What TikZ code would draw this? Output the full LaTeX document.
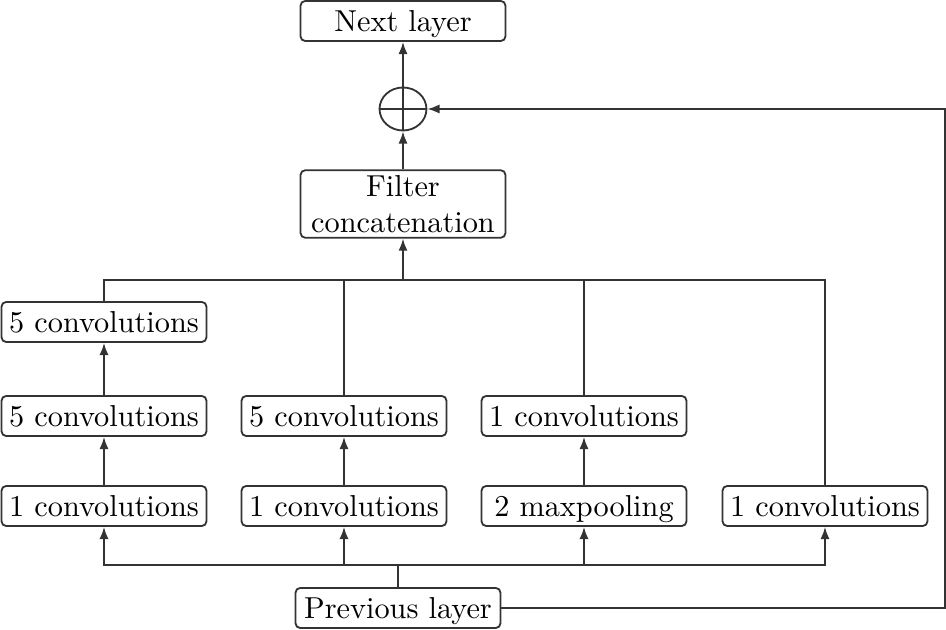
\documentclass[tikz,border=0pt]{standalone}
\usetikzlibrary{arrows.meta,shapes.geometric}
\tikzset{
  layer/.style={draw=black!80, line width=0.6pt, rounded corners=1.5pt,
    minimum width=67.6pt, minimum height=13.2pt, inner xsep=2pt, inner ysep=1.6pt,
    text height=8.5pt, text depth=1.5pt},
  wire/.style={draw=black!80, line width=0.6pt},
}
\begin{document}
\begin{tikzpicture}[x=0.33pt, y=-0.33pt, >={Latex[length=4pt,width=3pt]}]
  \useasboundingbox (0,0) rectangle (946,630);
  \node (next) at (403,21) [layer] {Next layer};
  \node (sum) at (403,109) [ellipse, wire, minimum width=15.5pt, minimum height=14.2pt, inner sep=0pt] {};
  \node (filter) at (403,204) [layer, align=center, minimum height=21.5pt,
    text height=, text depth=] {Filter\\concatenation};
  \node (a3) at (104,322) [layer] {5 convolutions};
  \node (a2) at (104,416) [layer] {5 convolutions};
  \node (a1) at (104,506) [layer] {1 convolutions};
  \node (b2) at (344,416) [layer] {5 convolutions};
  \node (b1) at (344,506) [layer] {1 convolutions};
  \node (c2) at (584,416) [layer] {1 convolutions};
  \node (c1) at (584,506) [layer] {2 maxpooling};
  \node (d1) at (825,506) [layer] {1 convolutions};
  \node (prev) at (398,608) [layer] {Previous layer};
  \coordinate (join) at (403,280);
  \coordinate (split) at (398,565);
  \coordinate (loop) at (945,109);
  % plus sign
  \draw[wire] (sum.west) -- (sum.east) (sum.north) -- (sum.south);
  % upward flow
  \draw[wire,->] (sum) -- (next);
  \draw[wire,->] (filter) -- (sum);
  \draw[wire,->] (join) -- (filter);
  \draw[wire] (a3) |- (join);
  \draw[wire] (b2) |- (join);
  \draw[wire] (c2) |- (join);
  \draw[wire] (d1) |- (join);
  \draw[wire,->] (a2) -- (a3);
  \draw[wire,->] (a1) -- (a2);
  \draw[wire,->] (b1) -- (b2);
  \draw[wire,->] (c1) -- (c2);
  % input branches
  \draw[wire] (prev) -- (split);
  \draw[wire,->] (split) -| (a1);
  \draw[wire,->] (split) -| (b1);
  \draw[wire,->] (split) -| (c1);
  \draw[wire,->] (split) -| (d1);
  % shortcut
  \draw[wire,->] (prev) -| (loop) -- (sum);
\end{tikzpicture}
\end{document}
